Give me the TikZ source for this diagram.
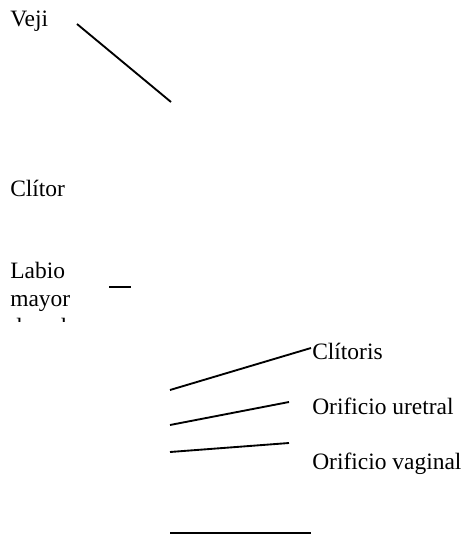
\documentclass[tikz,border=0pt]{standalone}
\usepackage{fontspec}
\setmainfont{Liberation Serif}

\begin{document}
\begin{tikzpicture}[x=0.75pt,y=0.75pt,yscale=-1,xscale=1,
	lbl/.style={anchor=base west, inner sep=0pt, font=\fontsize{17.6}{20.5}\selectfont},
	lead/.style={line width=1.4pt}]
		\useasboundingbox (0,0) rectangle (467,538);
		
		% Text Node
		\node [lbl] (veji) at (10,27) {Veji};
		% Text Node
		\node [lbl] (clitor) at (10,196) {Clítor};
		% Text Node
		\node [lbl] (labio) at (10,278) {Labio};
		% Text Node
		\node [lbl] (mayor) at (10,306) {mayor};
		% Text Node (cut off)
		\begin{scope}
			\clip (0,310) rectangle (140,321);
			\node [lbl] (derecho) at (10,334) {derecho};
		\end{scope}
		% Text Node
		\node [lbl] (clitoris) at (312,359) {Clítoris};
		% Text Node
		\node [lbl] (uretral) at (312,414) {Orificio uretral};
		% Text Node
		\node [lbl] (vaginal) at (312,469) {Orificio vaginal};
		
		% free ends of the leaders
		\coordinate (vejiA) at (77,24);
		\coordinate (vejiB) at (171,102);
		\coordinate (labioA) at (109,287);
		\coordinate (labioB) at (131,287);
		\coordinate (clitA) at (170,390);
		\coordinate (clitB) at (311,348);
		\coordinate (uretA) at (170,425);
		\coordinate (uretB) at (289,402);
		\coordinate (vagA) at (170,452);
		\coordinate (vagB) at (289,443);
		\coordinate (baseA) at (170,533);
		\coordinate (baseB) at (311,533);
		
		%Straight Lines
		\draw [lead] (vejiA) -- (vejiB) ;
		%Straight Lines
		\draw [lead] (labioA) -- (labioB) ;
		%Straight Lines
		\draw [lead] (clitA) -- (clitB) ;
		%Straight Lines
		\draw [lead] (uretA) -- (uretB) ;
		%Straight Lines
		\draw [lead] (vagA) -- (vagB) ;
		%Straight Lines
		\draw [lead] (baseA) -- (baseB) ;
		
	\end{tikzpicture}
\end{document}
